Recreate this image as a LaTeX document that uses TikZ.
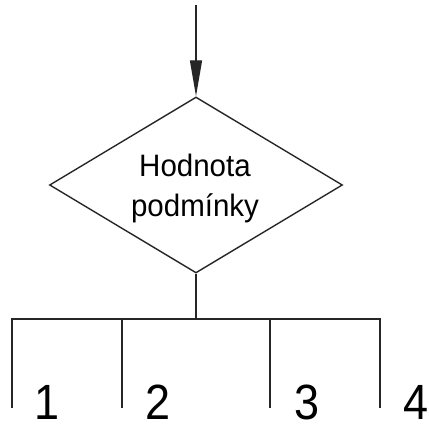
\documentclass[tikz,border=0pt]{standalone}
\usepackage{fontspec}
\setmainfont{Liberation Sans}
\usetikzlibrary{shapes.geometric,arrows.meta}
\begin{document}
\begin{tikzpicture}[x=1pt,y=-1pt,
  wire/.style={line width=1.4pt,draw=black!85},
  dia/.style={diamond,draw=black!85,line width=1.4pt,inner sep=0pt,
    minimum width=293pt,minimum height=176pt,aspect=1.66},
  txt/.style={inner sep=0pt,font=\fontsize{29.5}{36}\selectfont},
  num/.style={inner sep=0pt,font=\fontsize{45}{50}\selectfont,anchor=base}]
  \useasboundingbox[fill=white] (0,0) rectangle (429,425);

  % incoming flow
  \coordinate (in) at (196,5);
  \node[dia] (d) at (196,185) {};
  \draw[wire,-{Triangle[length=36pt,width=12pt]}] (in) -- (d.north);

  \node[txt,anchor=base] (t1) at (195,177) {\scalebox{1}[1.05]{Hodnota}};
  \node[txt,anchor=base] (t2) at (195,217) {\scalebox{1}[1.05]{podmínky}};

  % branch bar
  \coordinate (bar) at (196,319);
  \coordinate (b1) at (12,319);
  \coordinate (b2) at (122,319);
  \coordinate (b3) at (270,319);
  \coordinate (b4) at (380,319);
  \coordinate (e1) at (12,408);
  \coordinate (e2) at (122,408);
  \coordinate (e3) at (270,408);
  \coordinate (e4) at (380,408);
  \draw[wire] (d.south) -- (bar);
  \draw[wire] (e1) -- (b1) -- (b4) -- (e4);
  \draw[wire] (b2) -- (e2);
  \draw[wire] (b3) -- (e3);

  \node[num] (n1) at (47,419) {\scalebox{1}[1.1]{1}};
  \node[num] (n2) at (158,419) {\scalebox{1}[1.1]{2}};
  \node[num] (n3) at (307,419) {\scalebox{1}[1.1]{3}};
  \node[num] (n4) at (416,419) {\scalebox{1}[1.1]{4}};
\end{tikzpicture}
\end{document}
